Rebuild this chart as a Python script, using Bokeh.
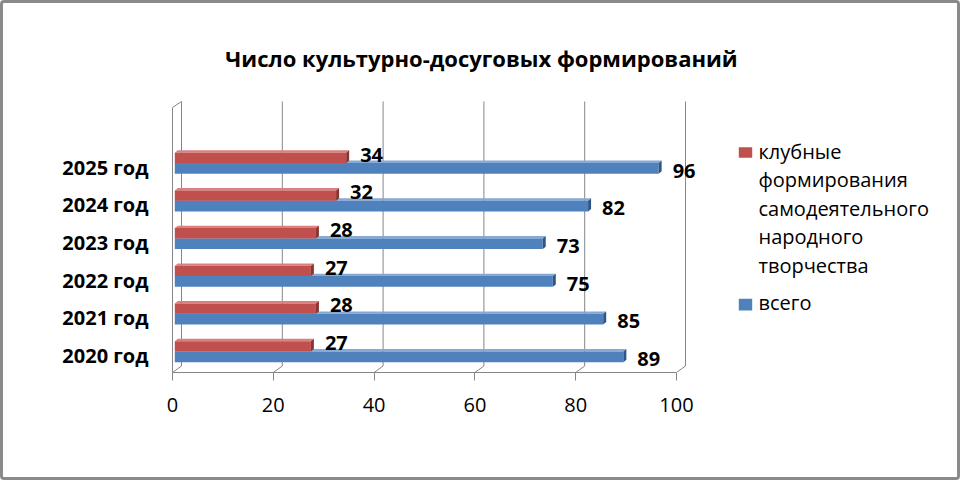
from bokeh.plotting import figure
from bokeh.models import Range1d, FixedTicker, ColumnDataSource
from bokeh.embed import file_html
from bokeh.resources import INLINE
from bokeh.core.properties import value

# ---------------- data ----------------
title_text = "Число культурно-досуговых формирований"
years = ["2020 год", "2021 год", "2022 год", "2023 год", "2024 год", "2025 год"]
club = [27, 28, 27, 28, 32, 34]
total = [89, 85, 75, 73, 82, 96]
club_name_lines = ["клубные", "формирования", "самодеятельного", "народного", "творчества"]
total_name = "всего"
x_ticks = [0, 20, 40, 60, 80, 100]

# ---------------- styles ----------------
RED, RED_TOP, RED_SIDE = "#C0504D", "#D8817E", "#8C3431"
BLUE, BLUE_TOP, BLUE_SIDE = "#4F81BD", "#86A9D6", "#2E5686"
GRID = "#868686"
FONT = "Open Sans"

W, H = 960, 480
BW = 3                   # css border width
OX, OY = BW, BW          # page offset of the canvas
X0, SX = 172.0, 5.04     # page x of value 0, px per unit
Y0, SY = 355.0, 37.7     # page y of first category, px per category
FL, FB = 160, 372        # frame left / bottom on page
FR, FT = OX + W, OY


def vx(px):
    return (px - X0) / SX


def vy(py):
    return (Y0 - py) / SY


def ux(d):
    return d / SX


def uy(d):
    return d / SY


p = figure(width=W, height=H, output_backend="svg", toolbar_location=None, title=None,
           x_range=Range1d(vx(FL), vx(FR)), y_range=Range1d(vy(FB), vy(FT)),
           min_border_left=FL - OX, min_border_right=0, min_border_top=0,
           min_border_bottom=OY + H - FB)
p.outline_line_color = None
p.xgrid.visible = False
p.ygrid.visible = False
p.background_fill_color = "white"
p.border_fill_color = "white"
p.styles = {"border": f"{BW}px solid #8A8A8A", "border-radius": "4px"}

# ---------------- 3D walls ----------------
ddx, ddy = ux(9), uy(6.5)
floor_front = vy(FB)
back_floor = vy(365.5)
back_top = vy(101)
front_top = vy(107)

x0s, y0s, x1s, y1s = [], [], [], []
for t in x_ticks:
    x0s += [t + ddx, t]
    y0s += [back_floor, floor_front]
    x1s += [t + ddx, t + ddx]
    y1s += [back_top, back_floor]
x0s += [0, 0]
y0s += [floor_front, front_top]
x1s += [0, ddx]
y1s += [front_top, back_top]
p.segment(x0=x0s, y0=y0s, x1=x1s, y1=y1s, line_color=GRID, line_width=1)

# ---------------- bars ----------------
bx = ux(2.3)
sdx, sdy = ux(3), uy(2.4)
bnd = [i + uy(4) for i in range(len(years))]
red_top = [b + uy(10.3) for b in bnd]
blue_bot = [b - uy(10.7) for b in bnd]

# blue top faces (mostly hidden under red)
p.patches(xs=[[bx, v + bx, v + bx + sdx, bx + sdx] for v in total],
          ys=[[b, b, b + sdy, b + sdy] for b in bnd],
          fill_color=BLUE_TOP, line_color=None)
p.quad(left=[bx] * len(total), right=[v + bx for v in total], bottom=blue_bot, top=bnd,
       fill_color=BLUE, line_color=None)
p.patches(xs=[[v + bx, v + bx, v + bx + sdx, v + bx + sdx] for v in total],
          ys=[[bb, b, b + sdy, bb + sdy] for b, bb in zip(bnd, blue_bot)],
          fill_color=BLUE_SIDE, line_color=None)

p.patches(xs=[[bx, v + bx, v + bx + sdx, bx + sdx] for v in club],
          ys=[[rt, rt, rt + sdy, rt + sdy] for rt in red_top],
          fill_color=RED_TOP, line_color=None)
p.quad(left=[bx] * len(club), right=[v + bx for v in club], bottom=bnd, top=red_top,
       fill_color=RED, line_color=None)
p.patches(xs=[[v + bx, v + bx, v + bx + sdx, v + bx + sdx] for v in club],
          ys=[[b, rt, rt + sdy, b + sdy] for b, rt in zip(bnd, red_top)],
          fill_color=RED_SIDE, line_color=None)

# value labels
lab = ColumnDataSource(dict(
    x=[v + bx + ux(14) for v in club] + [v + bx + ux(14) for v in total],
    y=[b + uy(8.5) for b in bnd] + [b - uy(7.5) for b in bnd],
    t=[str(v) for v in club] + [str(v) for v in total]))
p.text(x="x", y="y", text="t", source=lab, text_font=value(FONT), text_font_style="bold",
       text_font_size="20px", text_color="black", text_align="left", text_baseline="middle")

# ---------------- title ----------------
p.text(x=[vx(481)], y=[vy(57)], text=[title_text], text_font=value(FONT),
       text_font_style="bold", text_font_size="22px", text_color="black",
       text_align="center", text_baseline="middle")

# ---------------- legend ----------------
p.quad(left=[vx(738.3)] * 2, right=[vx(751.7)] * 2,
       top=[vy(146.7), vy(298.3)], bottom=[vy(157.3), vy(310)],
       fill_color=[RED, BLUE], line_color=None)
leg_y = [vy(153 - 2.4 + 28.5 * k) for k in range(len(club_name_lines))] + [vy(304 - 2.4)]
p.text(x=[vx(758)] * (len(club_name_lines) + 1), y=leg_y, text=club_name_lines + [total_name],
       text_font=value(FONT), text_font_size="20px", text_color="black",
       text_align="left", text_baseline="middle")

# ---------------- axes ----------------
xa = p.xaxis[0]
xa.ticker = FixedTicker(ticks=x_ticks)
xa.bounds = (0, 100)
xa.axis_line_color = GRID
xa.major_tick_line_color = GRID
xa.major_tick_out = 8
xa.major_tick_in = 0
xa.minor_tick_line_color = None
xa.major_label_text_font = FONT
xa.major_label_text_font_size = "20px"
xa.major_label_text_color = "black"
xa.major_label_standoff = 17

ya = p.yaxis[0]
ya.ticker = FixedTicker(ticks=list(range(len(years))))
ya.major_label_overrides = {i: y for i, y in enumerate(years)}
ya.axis_line_color = None
ya.major_tick_line_color = None
ya.minor_tick_line_color = None
ya.major_tick_out = 0
ya.major_tick_in = 0
ya.major_label_standoff = 12
ya.major_label_text_font = FONT
ya.major_label_text_font_style = "bold"
ya.major_label_text_font_size = "20px"
ya.major_label_text_color = "black"

open("out.html", "w").write(file_html(p, INLINE))
